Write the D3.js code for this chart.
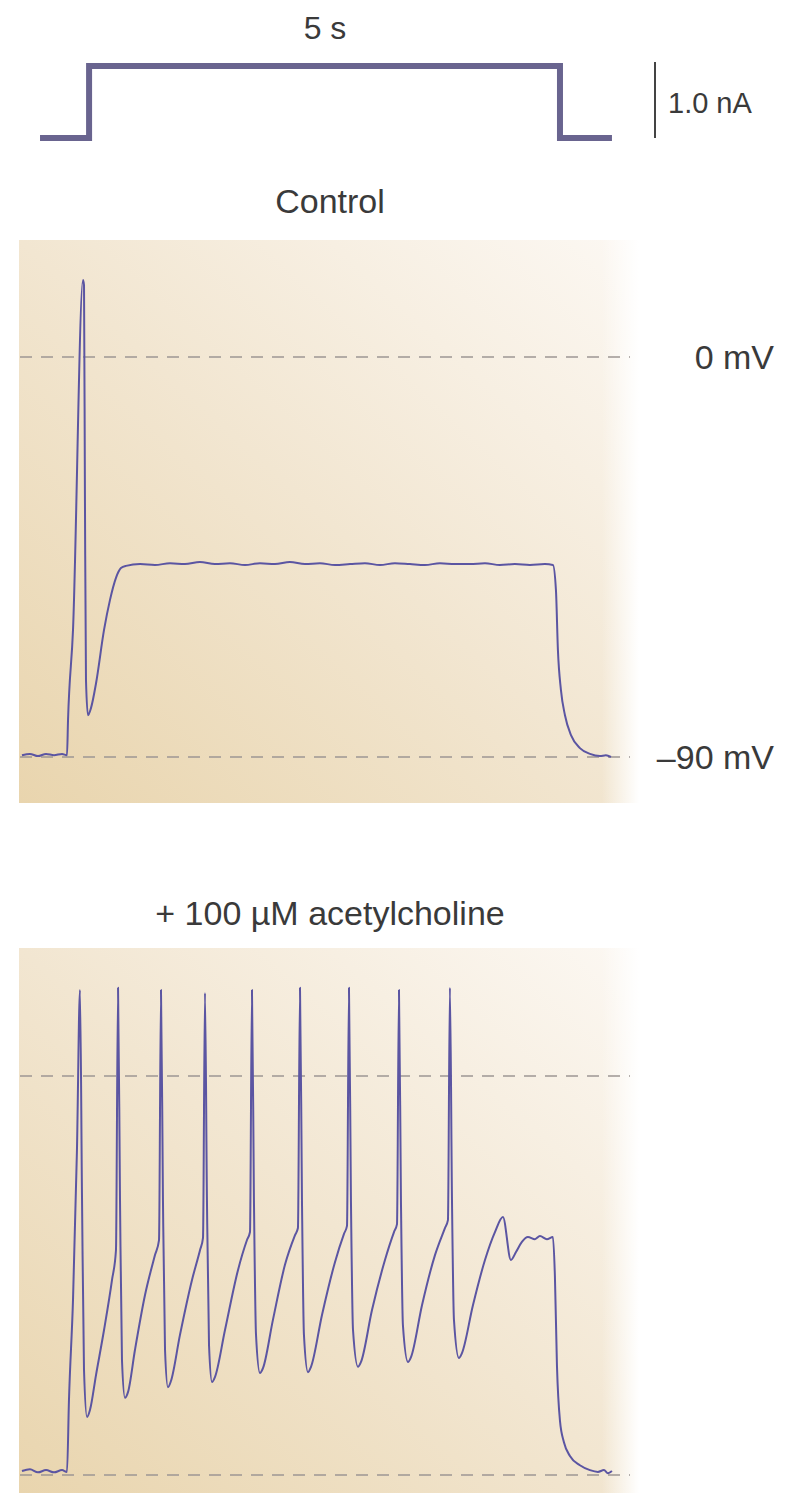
<!DOCTYPE html>
<html lang="en">
<head>
<meta charset="UTF-8">
<title>Acetylcholine and repetitive firing</title>
<script src="https://d3js.org/d3.v7.min.js"></script>
<style>
  html, body { margin: 0; padding: 0; background: #ffffff; }
  svg text { font-family: "Liberation Sans", Arial, sans-serif; fill: #3a3a3a; }
</style>
</head>
<body>
<svg id="fig" width="793" height="1493"></svg>
<script>
// current step (nA) against time (s)
const stimTime    = [0.213, 0.735, 0.735, 5.745, 5.745, 6.298];
const stimCurrent = [0, 0, 1, 1, 0, 0];

// control recording, membrane potential (mV) against time (s)
const controlTime = [0.021, 0.106, 0.191, 0.277, 0.362, 0.447, 0.500, 0.511, 0.564, 0.670, 0.681,
  0.691, 0.702, 0.723, 0.755, 0.809, 0.894, 0.957, 1.021, 1.074, 1.128, 1.277, 1.436, 1.596,
  1.755, 1.915, 2.074, 2.234, 2.394, 2.553, 2.713, 2.872, 3.032, 3.191, 3.351, 3.511, 3.670,
  3.830, 3.989, 4.149, 4.309, 4.468, 4.628, 4.787, 4.947, 5.106, 5.266, 5.426, 5.585, 5.670,
  5.702, 5.723, 5.755, 5.798, 5.862, 5.957, 6.064, 6.170, 6.234, 6.287];
const controlMv = [-89.6, -89.3, -89.8, -89.3, -89.6, -89.3, -89.6, -81.7, -61.4, 17.3, 16.2,
  -32.2, -72.7, -80.6, -79.0, -73.4, -61.4, -54.7, -49.7, -47.5, -47.0, -46.6, -46.8, -46.4,
  -46.6, -46.1, -46.6, -46.4, -46.8, -46.4, -46.6, -46.1, -46.6, -46.4, -46.8, -46.6, -46.4,
  -46.8, -46.4, -46.6, -46.8, -46.4, -46.6, -46.6, -46.4, -46.8, -46.6, -46.8, -46.6, -46.8,
  -52.4, -65.9, -74.9, -80.6, -85.1, -88.0, -89.3, -89.8, -89.6, -90.0];

// recording with 100 uM acetylcholine
const achTime = [0.021, 0.106, 0.191, 0.277, 0.362, 0.447, 0.500, 0.521, 0.564, 0.606,
  0.638, 0.660, 0.681, 0.713, 0.745, 0.809, 0.894, 0.979, 1.021,
  1.043, 1.064, 1.085, 1.117, 1.149, 1.223, 1.330, 1.436, 1.479,
  1.500, 1.521, 1.543, 1.574, 1.606, 1.702, 1.830, 1.915, 1.947,
  1.968, 1.989, 2.011, 2.043, 2.074, 2.181, 2.319, 2.415, 2.447,
  2.468, 2.489, 2.511, 2.553, 2.585, 2.691, 2.819, 2.926, 2.957,
  2.979, 3.000, 3.021, 3.064, 3.096, 3.213, 3.351, 3.447, 3.479,
  3.500, 3.521, 3.543, 3.596, 3.628, 3.745, 3.883, 3.979, 4.011,
  4.032, 4.053, 4.074, 4.128, 4.160, 4.277, 4.415, 4.521, 4.553,
  4.574, 4.596, 4.617, 4.670, 4.702, 4.819, 4.947, 5.053,
  5.138, 5.223, 5.277, 5.340, 5.404, 5.479, 5.532, 5.606, 5.670,
  5.691, 5.713, 5.745, 5.787, 5.851, 5.957, 6.064, 6.149, 6.213, 6.255, 6.298];
const achMv = [-89.1, -88.7, -89.4, -88.9, -89.4, -88.9, -89.3, -73.1, -50.5, -16.7,
  19.4, -28.0, -66.3, -76.9, -75.3, -67.4, -57.3, -46.0, -39.3,
  19.9, -28.0, -64.1, -72.6, -71.3, -61.8, -49.4, -40.4, -37.0,
  19.4, -28.0, -61.8, -70.2, -68.8, -58.4, -46.0, -39.3, -36.5,
  18.7, -28.0, -60.7, -69.0, -67.9, -57.3, -43.8, -37.0, -35.2,
  19.4, -28.0, -58.4, -67.0, -65.9, -55.0, -42.6, -35.9, -34.3,
  19.9, -28.0, -58.4, -66.8, -65.6, -53.9, -42.0, -35.6, -33.8,
  19.9, -28.0, -57.3, -65.6, -64.5, -52.8, -41.5, -35.2, -33.4,
  19.4, -28.0, -56.2, -64.5, -63.4, -51.7, -40.4, -34.3, -32.5,
  19.9, -28.0, -55.0, -63.6, -62.5, -51.7, -41.5, -35.2,
  -31.8, -41.5, -39.7, -37.4, -36.3, -36.8, -36.1, -36.8, -36.3,
  -45.1, -65.4, -77.8, -82.6, -85.7, -87.8, -88.9, -89.3, -88.9, -89.6, -89.1];

const refLevels = [0, -90];
const refLabels = ["0 mV", "\u201390 mV"];
const titles = ["Control", "+ 100 \u00b5M acetylcholine"];

const svg = d3.select("#fig");
const defs = svg.append("defs");

const x = d3.scaleLinear().domain([0, 6.49]).range([20, 630]);
const yStim = d3.scaleLinear().domain([0, 1]).range([138, 66]);
const yCtrl = d3.scaleLinear().domain([-90, 0]).range([757, 357]);
const yAch = d3.scaleLinear().domain([-90, 0]).range([1475, 1076]);

// panel shading: tan at lower left, almost white at upper right
let tan = defs.append("linearGradient").attr("id", "tan")
  .attr("x1", 0).attr("y1", 1).attr("x2", 1).attr("y2", 0);
tan.append("stop").attr("offset", 0).attr("stop-color", "#e9d5ae");
tan.append("stop").attr("offset", 0.5).attr("stop-color", "#f2e6d1");
tan.append("stop").attr("offset", 1).attr("stop-color", "#fcf8f3");

let fade = defs.append("linearGradient").attr("id", "fade")
  .attr("x1", 0).attr("y1", 0).attr("x2", 1).attr("y2", 0);
fade.append("stop").attr("offset", 0.94).attr("stop-color", "#fff").attr("stop-opacity", 0);
fade.append("stop").attr("offset", 1).attr("stop-color", "#fff").attr("stop-opacity", 1);

const panels = [
  {top: 240, bottom: 803, y: yCtrl, time: controlTime, mv: controlMv, title: titles[0], titleY: 213, labels: true},
  {top: 948, bottom: 1493, y: yAch, time: achTime, mv: achMv, title: titles[1], titleY: 925, labels: false}
];

panels.forEach(p => {
  let g = svg.append("g");
  g.append("rect").attr("x", 19).attr("y", p.top)
    .attr("width", 620).attr("height", p.bottom - p.top).attr("fill", "url(#tan)");
  g.append("rect").attr("x", 19).attr("y", p.top)
    .attr("width", 620).attr("height", p.bottom - p.top).attr("fill", "url(#fade)");

  g.append("text").attr("x", 330).attr("y", p.titleY)
    .attr("text-anchor", "middle").attr("font-size", 34).text(p.title);

  g.selectAll("line.ref").data(refLevels).join("line").attr("class", "ref")
    .attr("x1", x(0)).attr("x2", x(6.49))
    .attr("y1", d => p.y(d)).attr("y2", d => p.y(d))
    .attr("stroke", "#9d9794").attr("stroke-width", 1.4).attr("stroke-dasharray", "12,9");

  if (p.labels) {
    g.selectAll("text.ref").data(refLevels).join("text").attr("class", "ref")
      .attr("x", 774).attr("y", d => p.y(d))
      .attr("dy", "0.35em").attr("text-anchor", "end").attr("font-size", 34)
      .text((d, i) => refLabels[i]);
  }

  let pts = p.time.map((t, i) => ({t: t, v: p.mv[i]}));
  let line = d3.line().x(d => x(d.t)).y(d => p.y(d.v)).curve(d3.curveMonotoneX);
  g.append("path").datum(pts).attr("d", line)
    .attr("fill", "none").attr("stroke", "#5b55a2").attr("stroke-width", 2)
    .attr("stroke-linejoin", "round");
});

// current step
let stim = stimTime.map((t, i) => ({t: t, c: stimCurrent[i]}));
svg.append("path").datum(stim)
  .attr("d", d3.line().x(d => x(d.t)).y(d => yStim(d.c)))
  .attr("fill", "none").attr("stroke", "#69648f").attr("stroke-width", 6);

svg.append("text").attr("x", 325).attr("y", 39)
  .attr("text-anchor", "middle").attr("font-size", 32).text("5 s");

// 1 nA scale bar
svg.append("line").attr("x1", 655).attr("x2", 655)
  .attr("y1", yStim(1) - 4).attr("y2", yStim(0))
  .attr("stroke", "#444").attr("stroke-width", 2);
svg.append("text").attr("x", 668).attr("y", 113).attr("font-size", 29).text("1.0 nA");
</script>
</body>
</html>
